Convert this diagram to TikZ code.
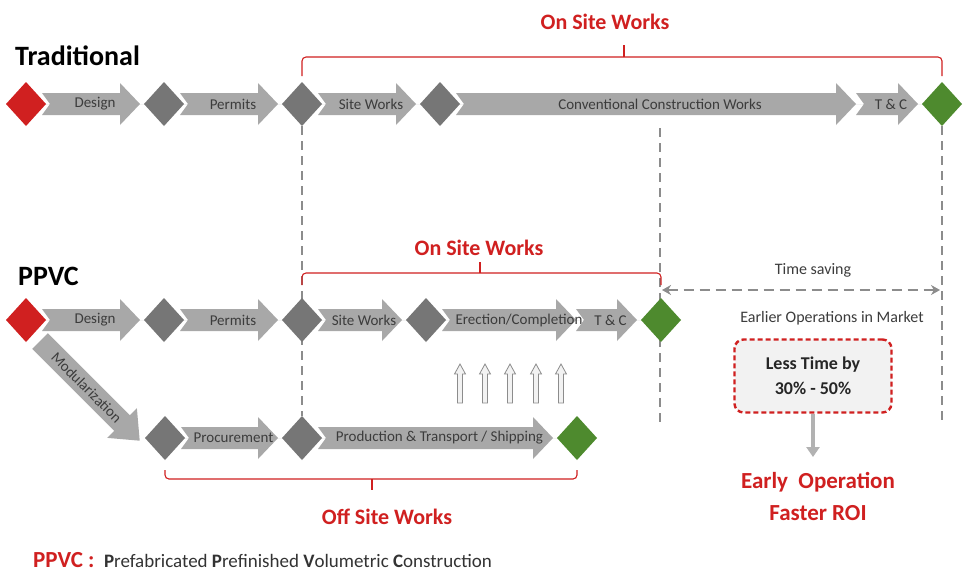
\documentclass[tikz,border=0pt]{standalone}
\usepackage{fontspec}
\setmainfont{Carlito}
\usetikzlibrary{shapes.geometric,arrows.meta,backgrounds}
\definecolor{ppvcred}{RGB}{208,32,32}
\definecolor{stagegray}{RGB}{168,168,168}
\definecolor{gategray}{RGB}{118,118,118}
\definecolor{donegreen}{RGB}{78,138,46}
\definecolor{labelgray}{RGB}{60,60,60}
\definecolor{guidegray}{RGB}{140,140,140}
\definecolor{boxfill}{RGB}{242,242,242}

\begin{document}
\begin{tikzpicture}[x=1pt,y=-1pt,
        gate/.style = {diamond,minimum width=40pt,minimum height=44pt,
                       inner sep=0pt,outer sep=0pt,fill=gategray},
        startgate/.style = {gate,fill=ppvcred},
        endgate/.style = {gate,fill=donegreen},
        stage/.style = {fill=stagegray,to path={
            ([xshift=-4pt,yshift=11pt]\tikztostart) -- ([xshift=-24pt,yshift=11pt]\tikztotarget)
            -- ([xshift=-24pt,yshift=21pt]\tikztotarget) -- ([xshift=-4pt]\tikztotarget)
            -- ([xshift=-24pt,yshift=-21pt]\tikztotarget) -- ([xshift=-24pt,yshift=-11pt]\tikztotarget)
            -- ([xshift=-4pt,yshift=-11pt]\tikztostart) -- ([xshift=4pt]\tikztostart) -- cycle
            (\tikztostart) -- (\tikztotarget) \tikztonodes}},
        stagetext/.style = {text=labelgray,font=\fontsize{15}{18}\selectfont,inner sep=0pt},
        rowtitle/.style = {font=\bfseries\fontsize{28}{32}\selectfont,anchor=base west,inner sep=0pt},
        worktitle/.style = {text=ppvcred,font=\bfseries\fontsize{22}{26}\selectfont},
        brace/.style = {draw=ppvcred,line width=1.1pt,rounded corners=4pt},
        guide/.style = {draw=guidegray,line width=1.8pt,dash pattern=on 9pt off 6pt},
        saving/.style = {draw=guidegray,line width=2.6pt,dash pattern=on 10pt off 6pt,
                         {Stealth[length=9pt,width=10pt]}-{Stealth[length=9pt,width=10pt]}},
        note/.style = {text=labelgray,font=\fontsize{16}{19}\selectfont},
        liftarrow/.style = {fill=boxfill,draw=guidegray,line width=0.8pt},
        gainbox/.style = {draw=ppvcred,fill=boxfill,line width=2.4pt,dash pattern=on 5pt off 3pt,
                          rounded corners=9pt,minimum width=157pt,minimum height=73pt,align=center,
                          text=black!85,font=\bfseries\fontsize{18}{25}\selectfont},
        roiarrow/.style = {draw=black!30,line width=4pt,-{Triangle[length=10pt,width=13pt]}}]

    \useasboundingbox (0,0) rectangle (963,571);

    % Traditional
    \node[rowtitle] (tradtitle) at (15,65) {Traditional};
    \node[startgate] (t1) at (26,104) {};
    \node[gate] (t2) at (164,104) {};
    \node[gate] (t3) at (302,104) {};
    \node[gate] (t4) at (440,104) {};
    \coordinate (tc1) at (860,104);
    \node[endgate] (t5) at (942,104) {};

    \path[stage] (t1.east) to node[stagetext] (tdesign) {Design} (t2.west);
    \path[stage] (t2.east) to node[stagetext] (tpermits) {Permits} (t3.west);
    \path[stage] (t3.east) to node[stagetext] (tsite) {Site Works} (t4.west);
    \path[stage] (t4.east) to node[stagetext] (tconv) {Conventional Construction Works} (tc1);
    \path[stage] (tc1) to node[stagetext] (ttc) {T \& C} (t5.west);

    \draw[brace] ([yshift=6pt]t3.north) |- ([yshift=25pt]t5.north) -- ([yshift=6pt]t5.north);
    \draw[brace] (624,57) -- (624,45);
    \node[worktitle] (onsite1) at (605,22) {On Site Works};

    % PPVC
    \node[rowtitle] (ppvctitle) at (18,285) {PPVC};
    \node[startgate] (p1) at (26,320) {};
    \node[gate] (p2) at (164,320) {};
    \node[gate] (p3) at (302,320) {};
    \node[gate] (p4) at (426,320) {};
    \coordinate (tc2) at (580,320);
    \node[endgate] (p5) at (661,320) {};

    \path[stage] (p1.east) to node[stagetext] (pdesign) {Design} (p2.west);
    \path[stage] (p2.east) to node[stagetext] (ppermits) {Permits} (p3.west);
    \path[stage] (p3.east) to node[stagetext] (psite) {Site Works} (p4.west);
    \path[stage] (p4.east) to node[stagetext,xshift=6pt] (perect) {Erection/Completion} (tc2);
    \path[stage] (tc2) to node[stagetext] (ptc) {T \& C} (p5.west);

    \draw[brace] ([yshift=13pt]p3.north) |- ([yshift=25pt]p5.north) -- ([yshift=13pt]p5.north);
    \draw[brace] (480,273) -- (480,262);
    \node[worktitle] (onsite2) at (479,248) {On Site Works};

    % off site branch
    \begin{scope}[shift={(40,341)},rotate=-45]
        \path[fill=stagegray] (0,-11) -- (116,-11) -- (116,-21) -- (141,0)
            -- (116,21) -- (116,11) -- (0,11) -- cycle;
        \node[stagetext,rotate=-45] (pmodular) at (66,0) {Modularization};
    \end{scope}

    \node[gate] (q1) at (165,438) {};
    \node[gate] (q2) at (302,438) {};
    \node[endgate] (q3) at (577,438) {};

    \path[stage] (q1.east) to node[stagetext] (qprocure) {Procurement} (q2.west);
    \path[stage] (q2.east) to node[stagetext] (qproduce) {Production \& Transport / Shipping} (q3.west);

    \foreach \x in {460,485,510,536,561}
        \draw[liftarrow] (\x-2.5,403) -- (\x-2.5,374) -- (\x-5.5,374) -- (\x,364)
            -- (\x+5.5,374) -- (\x+2.5,374) -- (\x+2.5,403) -- cycle;

    \draw[brace] ([yshift=-10pt]q1.south) |- ([yshift=-19pt]q3.south) -- ([yshift=-10pt]q3.south);
    \draw[brace] (372,479) -- (372,490);
    \node[worktitle] (offsite) at (387,517) {Off Site Works};

    % guide lines behind the gates
    \coordinate (gapTop) at (660,128);
    \coordinate (gapBot) at (660,422);
    \coordinate (endBot) at (942,422);
    \begin{scope}[on background layer]
        \fill[white] (0,0) rectangle (963,571);
        \draw[guide] (t3) -- (q2);
        \draw[guide] (gapTop) -- (gapBot);
        \draw[guide] (t5.south) -- (endBot);
    \end{scope}

    % time saving
    \coordinate (savL) at (662,290);
    \coordinate (savR) at (940,290);
    \draw[saving] (savL) -- (savR);
    \node[note] (savtext) at (813,270) {Time saving};
    \node[note] (earlier) at (832,318) {Earlier Operations in Market};

    \node[gainbox] (gain) at (813,376) {Less Time by\\30\% - 50\%};
    \coordinate (roitip) at (813,457);
    \draw[roiarrow] (gain.south) -- (roitip);
    \node[text=ppvcred,font=\bfseries\fontsize{23}{32}\selectfont,align=center] (roi) at (818,496)
        {Early~ Operation\\Faster ROI};

    % footer
    \node[anchor=base west,inner sep=0pt,text=black!80,font=\fontsize{19}{23}\selectfont] (legend) at (33,567)
        {{\color{ppvcred}\bfseries\fontsize{23}{26}\selectfont PPVC :}\enspace
         \textbf{P}refabricated \textbf{P}refinished \textbf{V}olumetric \textbf{C}onstruction};
\end{tikzpicture}
\end{document}
